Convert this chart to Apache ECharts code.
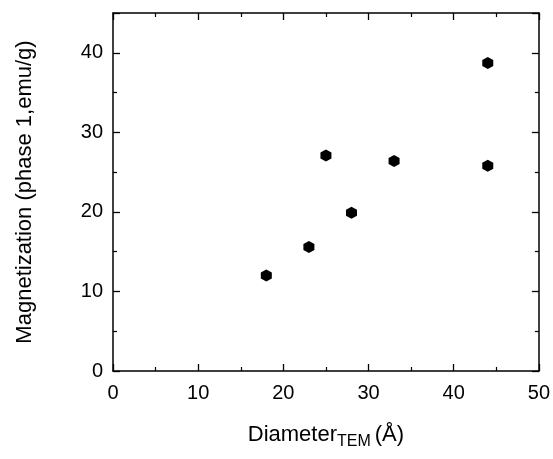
<!DOCTYPE html>
<html>
<head>
<meta charset="utf-8">
<script src="https://cdn.jsdelivr.net/npm/echarts@6/dist/echarts.min.js"></script>
<style>
  html, body { margin: 0; padding: 0; background: #fff; }
  #chart { width: 553px; height: 459px; }
</style>
</head>
<body>
<div id="chart"></div>
<script>
// Particle diameter (TEM) in Å and magnetization of phase 1 in emu/g
const diameters = [18, 23, 25, 28, 33, 44, 44];
const magnetization = [12.0, 15.6, 27.1, 19.9, 26.4, 25.8, 38.7];

const xTicks = { min: 0, max: 50, interval: 10 };
const yTicks = { min: 0, max: 45, interval: 10 };

const FONT = '"Liberation Sans", Arial, sans-serif';
const hexagon = 'path://M0,-1 L0.866,-0.5 L0.866,0.5 L0,1 L-0.866,0.5 L-0.866,-0.5 Z';

function frameAxis(extra) {
  return Object.assign({
    type: 'value',
    axisLine: { show: true, onZero: false, lineStyle: { color: '#000', width: 1.5 } },
    axisTick: { show: true, inside: true, length: 7, lineStyle: { color: '#000', width: 1.3 } },
    minorTick: { show: true, splitNumber: 2, length: 4, lineStyle: { color: '#000', width: 1.2 } },
    splitLine: { show: false },
    axisLabel: { show: false }
  }, extra);
}

const chart = echarts.init(document.getElementById('chart'), null, { renderer: 'canvas' });

chart.setOption({
  backgroundColor: '#fff',
  animation: false,
  grid: { left: 113, right: 13, top: 13, bottom: 88 },
  xAxis: [
    frameAxis({
      position: 'bottom',
      min: xTicks.min, max: xTicks.max, interval: xTicks.interval,
      axisLabel: { show: true, color: '#000', fontSize: 20, fontFamily: FONT, margin: 12 },
      name: '{a|Diameter}{b|TEM}{c|(Å)}',
      nameLocation: 'middle',
      nameGap: 53,
      nameTextStyle: {
        rich: {
          a: { fontSize: 22, fontFamily: FONT, color: '#000', lineHeight: 26, padding: [0, 0, 8, 0], verticalAlign: 'top' },
          b: { fontSize: 16, fontFamily: FONT, color: '#000', lineHeight: 16, verticalAlign: 'bottom' },
          c: { fontSize: 22, fontFamily: FONT, color: '#000', lineHeight: 26, padding: [0, 0, 8, 4], verticalAlign: 'top' }
        }
      }
    }),
    frameAxis({
      position: 'top',
      min: xTicks.min, max: xTicks.max, interval: xTicks.interval
    })
  ],
  yAxis: [
    frameAxis({
      position: 'left',
      min: yTicks.min, max: yTicks.max, interval: yTicks.interval,
      axisLabel: {
        show: true, color: '#000', fontSize: 20, fontFamily: FONT, margin: 10,
        showMaxLabel: false
      },
      name: 'Magnetization (phase 1,emu/g)',
      nameLocation: 'middle',
      nameRotate: 90,
      nameGap: 77,
      nameTextStyle: { fontSize: 22, fontFamily: FONT, color: '#000' }
    }),
    frameAxis({
      position: 'right',
      min: yTicks.min, max: yTicks.max, interval: yTicks.interval
    })
  ],
  series: [{
    type: 'scatter',
    xAxisIndex: 0,
    yAxisIndex: 0,
    symbol: hexagon,
    symbolSize: [11, 12],
    itemStyle: { color: '#000', opacity: 1 },
    data: diameters.map((d, i) => [d, magnetization[i]])
  }]
});
</script>
</body>
</html>
